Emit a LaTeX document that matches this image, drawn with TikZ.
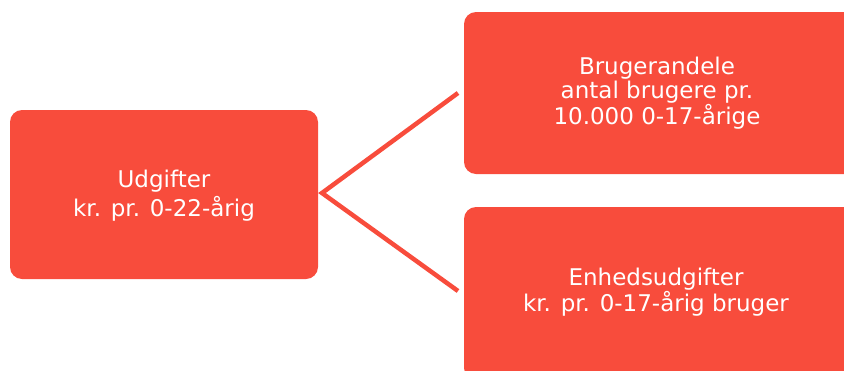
\documentclass[tikz,border=0pt]{standalone}
\usepackage{fontspec}
\setmainfont{DejaVu Sans}
\definecolor{boxred}{RGB}{248,76,60}
\begin{document}
\begin{tikzpicture}[x=1pt,y=-1pt,
  card/.style={fill=boxred,draw=none,rounded corners=12pt},
  lbl/.style={text=white,align=center,font=\fontsize{23}{23.5}\selectfont},
  conn/.style={draw=boxred,line width=4.5pt}]
\useasboundingbox (0,0) rectangle (844,370);
\begin{scope}
\clip (0,0) rectangle (844,370);
\fill[card] (10,110) rectangle (318,279);
\fill[card] (464,12) rectangle (856,174);
\fill[card] (464,207) rectangle (856,380);
\end{scope}
\node[lbl,font=\fontsize{23}{28.7}\selectfont] (a) at (164,196) {Udgifter\\kr. pr. 0-22-årig};
\node[lbl] (b) at (657,93) {Brugerandele\\antal brugere pr.\\10.000 0-17-årige};
\node[lbl] (c) at (656,292) {Enhedsudgifter\\kr. pr. 0-17-årig bruger};
\coordinate (p) at (322,193);
\coordinate (q1) at (458,93);
\coordinate (q2) at (458,291);
\draw[conn] (q1) -- (p) -- (q2);
\end{tikzpicture}
\end{document}
